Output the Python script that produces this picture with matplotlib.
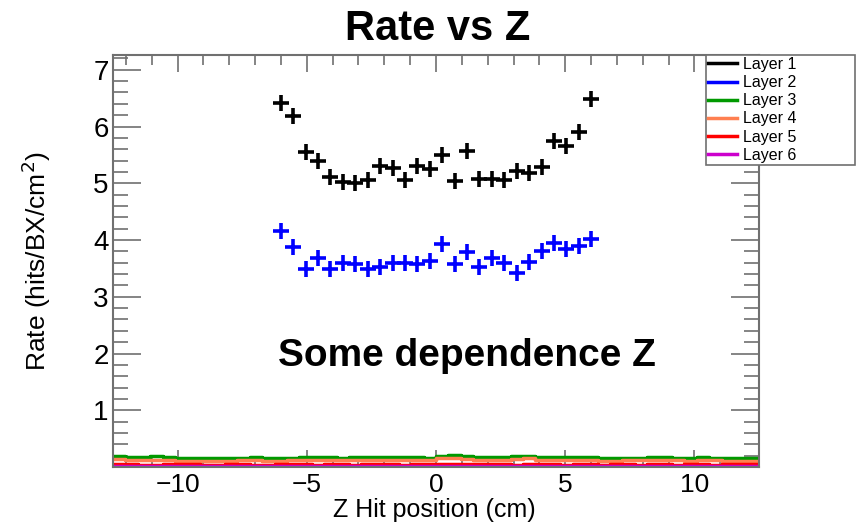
import numpy as np
import matplotlib
matplotlib.use("Agg")
import matplotlib.pyplot as plt
from matplotlib.ticker import MultipleLocator
from matplotlib.lines import Line2D

plt.rcParams['font.family'] = ['Liberation Sans', 'DejaVu Sans']

# ---- data ----
nbins = 52
xmin, xmax = -12.5, 12.5
edges = np.linspace(xmin, xmax, nbins + 1)
centers = 0.5 * (edges[:-1] + edges[1:])

layer1_bins = list(range(13, 39))
layer1 = [6.41, 6.18, 5.55, 5.40, 5.11, 5.02, 5.01, 5.06, 5.31, 5.27, 5.05, 5.30, 5.25,
          5.50, 5.04, 5.56, 5.08, 5.08, 5.06, 5.21, 5.18, 5.28, 5.74, 5.65, 5.90, 6.49]
layer2 = [4.16, 3.88, 3.49, 3.68, 3.49, 3.60, 3.57, 3.49, 3.53, 3.59, 3.59, 3.58, 3.63,
          3.93, 3.58, 3.78, 3.52, 3.69, 3.59, 3.42, 3.62, 3.81, 3.94, 3.84, 3.89, 4.01]

layer3 = [0.19, 0.17, 0.17, 0.19, 0.17, 0.16, 0.16, 0.15, 0.15, 0.16, 0.16, 0.17, 0.15,
          0.15, 0.16, 0.17, 0.17, 0.17, 0.16, 0.18, 0.18, 0.17, 0.18, 0.18, 0.18, 0.16,
          0.20, 0.21, 0.19, 0.18, 0.17, 0.18, 0.19, 0.20, 0.18, 0.17, 0.17, 0.18, 0.17,
          0.15, 0.15, 0.16, 0.16, 0.18, 0.17, 0.16, 0.16, 0.18, 0.16, 0.16, 0.15, 0.15]
layer4 = [0.14, 0.12, 0.12, 0.13, 0.12, 0.11, 0.11, 0.10, 0.11, 0.11, 0.12, 0.12, 0.11,
          0.11, 0.12, 0.12, 0.13, 0.12, 0.12, 0.13, 0.13, 0.12, 0.13, 0.13, 0.13, 0.12,
          0.15, 0.15, 0.14, 0.13, 0.12, 0.13, 0.14, 0.15, 0.13, 0.12, 0.13, 0.12, 0.13,
          0.11, 0.11, 0.12, 0.12, 0.13, 0.12, 0.12, 0.11, 0.13, 0.12, 0.11, 0.11, 0.11]
layer5 = [0.05, 0.05, 0.04, 0.04, 0.05, 0.05, 0.05, 0.04, 0.04, 0.05, 0.05, 0.04, 0.04,
          0.05, 0.05, 0.05, 0.04, 0.05, 0.05, 0.04, 0.05, 0.05, 0.05, 0.04, 0.05, 0.05,
          0.06, 0.05, 0.05, 0.06, 0.05, 0.05, 0.04, 0.05, 0.05, 0.05, 0.04, 0.05, 0.05,
          0.04, 0.05, 0.05, 0.04, 0.05, 0.05, 0.04, 0.05, 0.05, 0.04, 0.05, 0.05, 0.05]
layer6 = [0.01, 0.01, 0.01, 0.01, 0.01, 0.01, 0.01, 0.01, 0.01, 0.01, 0.01, 0.01, 0.01,
          0.01, 0.01, 0.01, 0.02, 0.01, 0.01, 0.01, 0.01, 0.02, 0.01, 0.01, 0.02, 0.02,
          0.01, 0.01, 0.01, 0.01, 0.01, 0.01, 0.01, 0.01, 0.01, 0.01, 0.01, 0.01, 0.01,
          0.01, 0.01, 0.01, 0.01, 0.01, 0.01, 0.01, 0.01, 0.01, 0.01, 0.01, 0.01, 0.01]

labels = ["Layer 1", "Layer 2", "Layer 3", "Layer 4", "Layer 5", "Layer 6"]
colors = ["black", "#0000ff", "#009900", "#ff7f50", "#ff0000", "#cc00cc"]

W, H = 859, 524
fig = plt.figure(figsize=(W / 100, H / 100), dpi=100)
ax = fig.add_axes([113 / W, 1 - 467 / H, (759 - 113) / W, (467 - 55) / H])

frame = "#707070"
for s in ax.spines.values():
    s.set_color(frame)
    s.set_linewidth(1.5)

def steps(vals):
    return np.append(vals, vals[-1])

for vals, c in [(layer3, colors[2]), (layer4, colors[3]), (layer5, colors[4]), (layer6, colors[5])]:
    ax.step(edges, steps(np.array(vals)), where='post', color=c, lw=2.5, zorder=2)

xc = centers[layer1_bins]
ax.plot(xc, layer1, ls='none', marker='+', ms=11, mew=2.6, color=colors[0], zorder=3)
ax.plot(xc, layer2, ls='none', marker='+', ms=11, mew=2.6, color=colors[1], zorder=3)

ax.set_xlim(xmin, xmax)
ax.set_ylim(0, 7.26)
ax.xaxis.set_minor_locator(MultipleLocator(1))
ax.yaxis.set_minor_locator(MultipleLocator(0.2))
ax.set_yticks([1, 2, 3, 4, 5, 6, 7])
ax.set_xticks([-10, -5, 0, 5, 10])
ax.set_xticklabels(["\u221210", "\u22125", "0", "5", "10"])
ax.tick_params(axis='both', which='both', direction='in', top=True, right=True,
               color=frame, width=1.2)
ax.tick_params(axis='y', which='major', length=20, labelsize=20, pad=3)
ax.tick_params(axis='y', which='minor', length=11)
ax.tick_params(axis='x', which='major', length=12, labelsize=19, pad=4)
ax.tick_params(axis='x', which='minor', length=7)

fig.text(434 / W, 1 - 517 / H, "Z Hit position (cm)", ha='center', va='baseline', fontsize=18)
fig.text(36 / W, 1 - 261 / H, "Rate (hits/BX/cm$^2$)", ha='center', va='center',
         rotation=90, fontsize=19)

fig.text(438 / W, 1 - 29 / H, "Rate vs Z", ha='center', va='center',
         fontsize=30, fontweight='bold')
fig.text(467 / W, 1 - 356 / H, "Some dependence Z", ha='center', va='center',
         fontsize=28, fontweight='bold')

leg_handles = [Line2D([], [], color=c, lw=2.5) for c in colors]
leg = fig.legend(leg_handles, labels, loc='upper left', mode='expand',
                 bbox_to_anchor=(706 / W, 1 - 163 / H, (855 - 706) / W, (163 - 55) / H),
                 fontsize=11.5, frameon=True, fancybox=False, borderpad=0.12,
                 labelspacing=0.2, handlelength=1.8, handletextpad=0.4, borderaxespad=0)
leg.get_frame().set_edgecolor(frame)
leg.get_frame().set_linewidth(1.2)
leg.get_frame().set_alpha(1)

fig.savefig("out.png", dpi=100)
